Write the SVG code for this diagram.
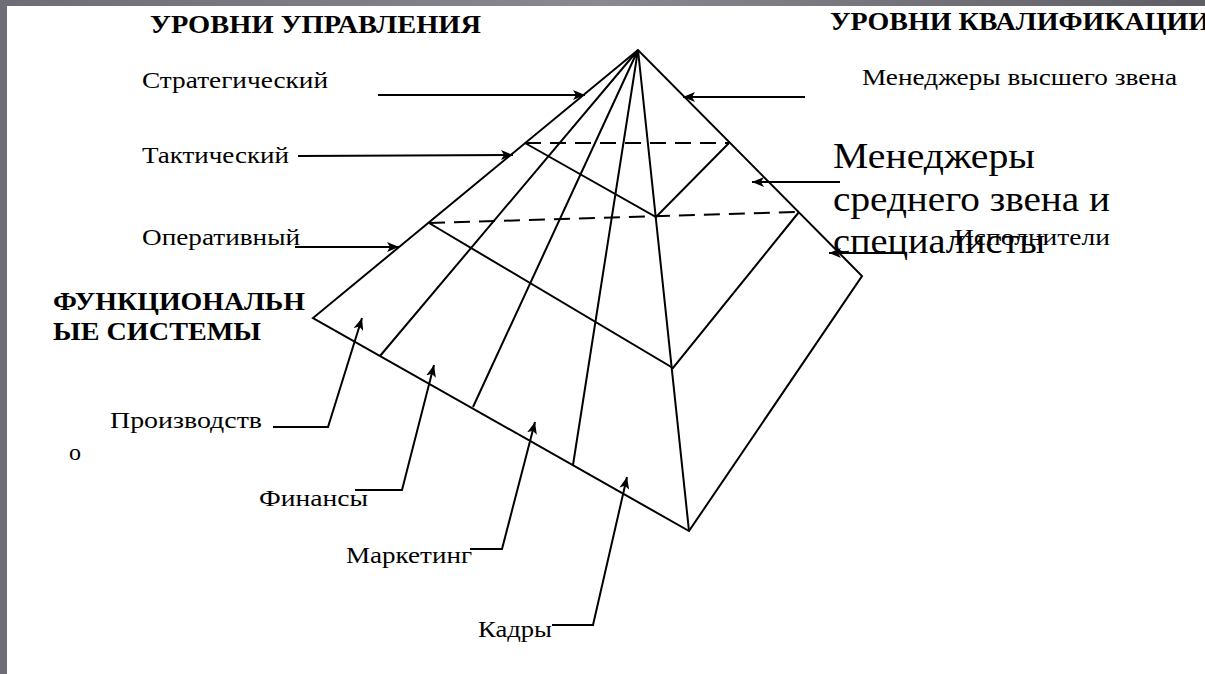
<svg xmlns="http://www.w3.org/2000/svg" width="1205" height="674" viewBox="0 0 1205 674">
<style>
.ln{stroke:#000;stroke-width:2;fill:none}
.dash{stroke:#000;stroke-width:2;fill:none;stroke-dasharray:16 9}
.t{font-family:"Liberation Serif","DejaVu Serif",serif;font-size:24px;fill:#000}
.b{font-family:"Liberation Serif","DejaVu Serif",serif;font-size:26px;font-weight:bold;fill:#000}
.big{font-family:"Liberation Serif","DejaVu Serif",serif;font-size:35px;fill:#000}
</style>
<defs>
<linearGradient id="bg" x1="0" y1="0" x2="1" y2="0">
<stop offset="0" stop-color="#6e6c74"/><stop offset="0.5" stop-color="#8a8890"/><stop offset="1" stop-color="#5f5e64"/>
</linearGradient>
<marker id="ah" viewBox="0 0 12 10" refX="12" refY="5" markerWidth="12" markerHeight="10" orient="auto" markerUnits="userSpaceOnUse">
<path d="M0,0 L12,5 L0,10 L3,5 z" fill="#000"/>
</marker>
</defs>
<rect x="0" y="0" width="1205" height="674" fill="url(#bg)"/>
<rect x="7" y="6" width="1198" height="668" fill="#fff"/>

<g id="pyramid">
<path class="ln" d="M638,50 L313,318 L689,531 L862,276 Z"/>
<path class="ln" d="M638,50 L689,531"/>
<path class="ln" d="M638,50 L380,356 M638,50 L473,407 M638,50 L573,465"/>
<path class="ln" d="M525,143 L656,217 L729,143"/>
<path class="ln" d="M429,223 L673,368 L799,212"/>
<path class="dash" d="M525,143 L729,143"/>
<path class="dash" d="M429,223 L799,212"/>
</g>

<g id="connectors">
<path class="ln" d="M378,95 L585,95" marker-end="url(#ah)"/>
<path class="ln" d="M298,156 L513,155" marker-end="url(#ah)"/>
<path class="ln" d="M295,247 L399,247" marker-end="url(#ah)"/>
<path class="ln" d="M805,97 L683,97" marker-end="url(#ah)"/>
<path class="ln" d="M840,182 L752,182" marker-end="url(#ah)"/>
<path class="ln" d="M905,253 L829,253" marker-end="url(#ah)"/>
<path class="ln" d="M273,427 L328,427 L362,318" marker-end="url(#ah)"/>
<path class="ln" d="M355,490 L402,490 L434,365" marker-end="url(#ah)"/>
<path class="ln" d="M470,549 L502,549 L535,422" marker-end="url(#ah)"/>
<path class="ln" d="M552,625 L593,625 L627,477" marker-end="url(#ah)"/>
</g>

<g id="title-management"><text class="b" x="150" y="33" textLength="331" lengthAdjust="spacingAndGlyphs">УРОВНИ УПРАВЛЕНИЯ</text></g>
<g id="title-qualification"><text class="b" x="830" y="30" textLength="380" lengthAdjust="spacingAndGlyphs">УРОВНИ КВАЛИФИКАЦИИ</text></g>
<g id="strategic"><text class="t" x="142" y="88" textLength="186" lengthAdjust="spacingAndGlyphs">Стратегический</text></g>
<g id="tactical"><text class="t" x="142" y="163" textLength="147" lengthAdjust="spacingAndGlyphs">Тактический</text></g>
<g id="operative"><text class="t" x="142" y="245" textLength="158" lengthAdjust="spacingAndGlyphs">Оперативный</text></g>
<g id="title-functional">
<text class="b" x="53" y="310" textLength="252" lengthAdjust="spacingAndGlyphs">ФУНКЦИОНАЛЬН</text>
<text class="b" x="53" y="340" textLength="208" lengthAdjust="spacingAndGlyphs">ЫЕ СИСТЕМЫ</text>
</g>
<g id="production">
<text class="t" x="110" y="428" textLength="152" lengthAdjust="spacingAndGlyphs">Производств</text>
<text class="t" x="69" y="460">о</text>
</g>
<g id="finance"><text class="t" x="259" y="506" textLength="109" lengthAdjust="spacingAndGlyphs">Финансы</text></g>
<g id="marketing"><text class="t" x="346" y="563" textLength="126" lengthAdjust="spacingAndGlyphs">Маркетинг</text></g>
<g id="personnel"><text class="t" x="478" y="637" textLength="74" lengthAdjust="spacingAndGlyphs">Кадры</text></g>
<g id="top-managers"><text class="t" x="862" y="85" textLength="315" lengthAdjust="spacingAndGlyphs">Менеджеры высшего звена</text></g>
<g id="executors"><text class="t" x="954" y="245" textLength="156" lengthAdjust="spacingAndGlyphs">Исполнители</text></g>
<g id="middle-managers">
<text class="big" x="833" y="168" textLength="202" lengthAdjust="spacingAndGlyphs">Менеджеры</text>
<text class="big" x="833" y="211" textLength="277" lengthAdjust="spacingAndGlyphs">среднего звена и</text>
<text class="big" x="833" y="253" textLength="212" lengthAdjust="spacingAndGlyphs">специалисты</text>
</g>
</svg>
